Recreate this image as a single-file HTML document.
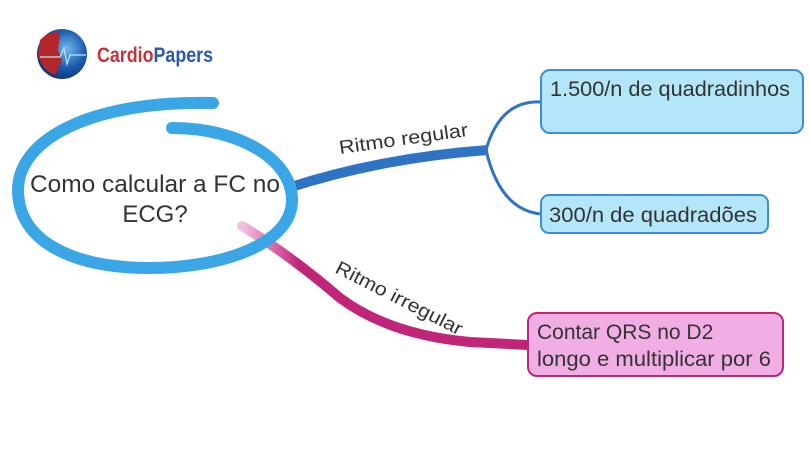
<!DOCTYPE html>
<html><head><meta charset="utf-8"><style>
body{margin:0;width:810px;height:457px;background:#fff;overflow:hidden;font-family:"Liberation Sans",sans-serif}
</style></head><body>
<svg width="810" height="457" viewBox="0 0 810 457" xmlns="http://www.w3.org/2000/svg">
<defs>
<radialGradient id="g" cx="0.6" cy="0.4" r="0.6"><stop offset="0" stop-color="#6fb8f0"/><stop offset="0.6" stop-color="#1e5fb0"/><stop offset="1" stop-color="#123a7a"/></radialGradient>
<linearGradient id="pk" x1="0" y1="0" x2="1" y2="0"><stop offset="0" stop-color="#f4c0e0"/><stop offset="0.2" stop-color="#c0257a"/><stop offset="1" stop-color="#c0257a"/></linearGradient>
</defs>
<!-- logo -->
<circle cx="62" cy="54" r="25" fill="url(#g)"/>
<path d="M40 40 Q50 30 60 33 L58 50 L62 60 L55 75 Q42 70 38 55 Z" fill="#b3262a"/>
<path d="M40 57 L60 57 L64 48 L67 64 L70 55 L86 55" stroke="#bfe6ff" stroke-width="1.2" fill="none"/>
<text x="97" y="62" font-size="21" font-weight="bold" textLength="116" lengthAdjust="spacingAndGlyphs"><tspan fill="#c8323a">Cardio</tspan><tspan fill="#2a58b0">Papers</tspan></text>
<!-- branches -->
<path d="M288 188 Q380 158 488 150" stroke="#2f74c4" stroke-width="10" fill="none"/>
<path d="M486 150 Q500 100 541 102 M486 150 Q500 210 541 214" stroke="#2f74c4" stroke-width="3" fill="none"/>
<path d="M242 226 Q290 255 340 298 Q390 335 470 342 L528 345" stroke="url(#pk)" stroke-width="10" fill="none" stroke-linecap="round"/>
<path d="M400 330 Q440 343 528 345" stroke="#c0257a" stroke-width="3" fill="none"/>
<!-- ellipse -->
<path d="M172 128 C240 128 292 160 292 200 C292 245 220 268 150 268 C70 268 18 240 18 190 C18 140 90 100 213 103" stroke="#3aa6e6" stroke-width="12" fill="none" stroke-linecap="round"/>
<text x="155" y="192" font-size="24" text-anchor="middle" fill="#333" textLength="250" lengthAdjust="spacingAndGlyphs">Como calcular a FC no</text>
<text x="155" y="222" font-size="24" text-anchor="middle" fill="#333">ECG?</text>
<!-- labels -->
<text x="340" y="154" font-size="19" fill="#333" transform="rotate(-8 340 154)" textLength="130" lengthAdjust="spacingAndGlyphs">Ritmo regular</text>
<text x="334" y="272" font-size="19" fill="#333" transform="rotate(27 334 272)" textLength="140" lengthAdjust="spacingAndGlyphs">Ritmo irregular</text>
<!-- boxes -->
<rect x="541" y="70" width="262" height="63" rx="9" fill="#b2e6f8" stroke="#3a8fd8" stroke-width="2"/>
<text x="550" y="96" font-size="21" fill="#333" textLength="240" lengthAdjust="spacingAndGlyphs">1.500/n de quadradinhos</text>
<rect x="541" y="195" width="227" height="38" rx="8" fill="#b2e6f8" stroke="#3a8fd8" stroke-width="2"/>
<text x="549" y="222" font-size="21" fill="#333" textLength="208" lengthAdjust="spacingAndGlyphs">300/n de quadradões</text>
<rect x="528" y="313" width="255" height="63" rx="9" fill="#f0aee4" stroke="#c0257a" stroke-width="2"/>
<text x="537" y="339" font-size="21" fill="#333">Contar QRS no D2</text>
<text x="537" y="366" font-size="21" fill="#333" textLength="234" lengthAdjust="spacingAndGlyphs">longo e multiplicar por 6</text>
</svg>
</body></html>
